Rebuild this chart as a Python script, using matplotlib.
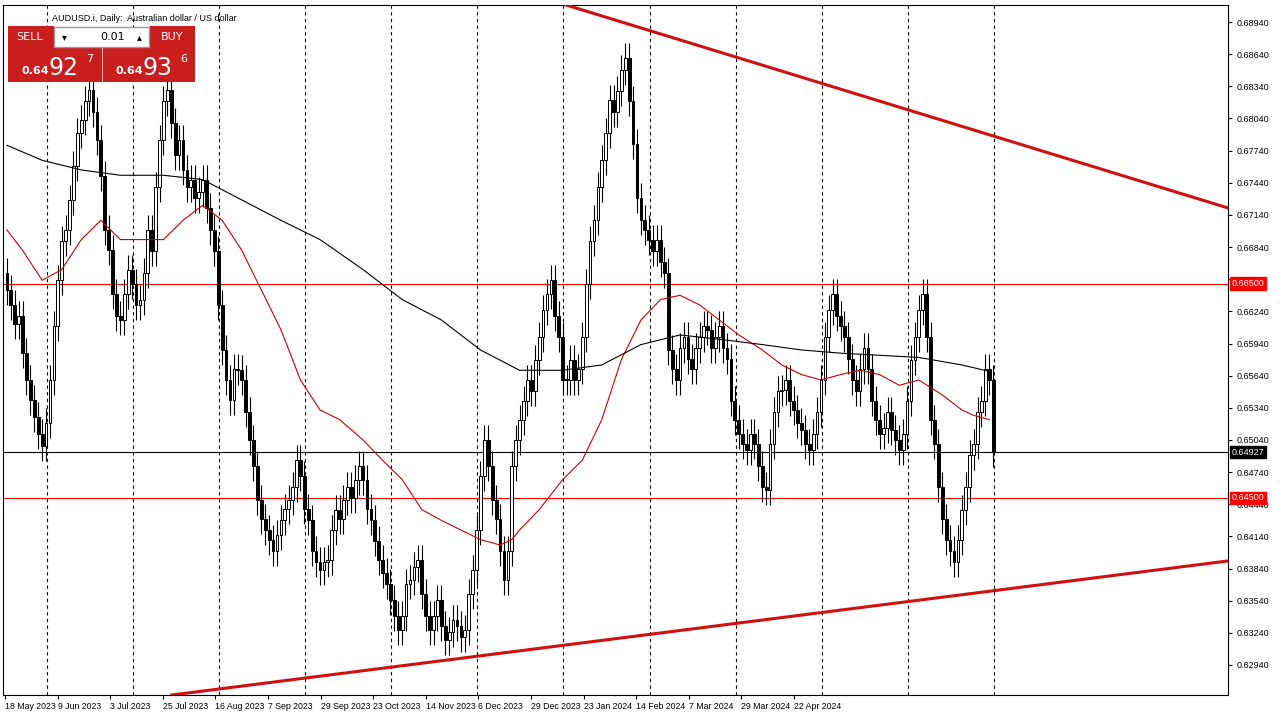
import numpy as np
import matplotlib
matplotlib.use("Agg")
from matplotlib import pyplot as plt
from matplotlib.patches import Rectangle

closes = [
    0.6644, 0.6630, 0.6612, 0.6620, 0.6585, 0.6560, 0.6541, 0.6525, 0.6510, 0.6498,
    0.6520, 0.6560, 0.6610, 0.6653, 0.6690, 0.6700, 0.6728, 0.6760, 0.6790, 0.6803,
    0.6820, 0.6831, 0.6810, 0.6784, 0.6750, 0.6700, 0.6681, 0.6640, 0.6620, 0.6616,
    0.6640, 0.6663, 0.6650, 0.6630, 0.6635, 0.6660, 0.6700, 0.6680, 0.6740, 0.6784,
    0.6820, 0.6831, 0.6800, 0.6770, 0.6784, 0.6756, 0.6740, 0.6747, 0.6730, 0.6735,
    0.6747, 0.6720, 0.6700, 0.6680, 0.6630, 0.6588, 0.6560, 0.6541, 0.6570, 0.6569,
    0.6560, 0.6530, 0.6504, 0.6480, 0.6448, 0.6430, 0.6420, 0.6411, 0.6400, 0.6415,
    0.6429, 0.6440, 0.6448, 0.6460, 0.6485, 0.6470, 0.6440, 0.6429, 0.6400, 0.6390,
    0.6383, 0.6390, 0.6392, 0.6420, 0.6439, 0.6430, 0.6448, 0.6460, 0.6450, 0.6467,
    0.6480, 0.6467, 0.6440, 0.6429, 0.6410, 0.6392, 0.6380, 0.6370, 0.6355, 0.6340,
    0.6327, 0.6340, 0.6370, 0.6373, 0.6385, 0.6392, 0.6360, 0.6340, 0.6327, 0.6340,
    0.6355, 0.6330, 0.6317, 0.6325, 0.6336, 0.6330, 0.6320, 0.6327, 0.6360, 0.6383,
    0.6420, 0.6470, 0.6504, 0.6480, 0.6448, 0.6430, 0.6400, 0.6373, 0.6400, 0.6480,
    0.6504, 0.6523, 0.6540, 0.6560, 0.6550, 0.6579, 0.6600, 0.6625, 0.6640, 0.6653,
    0.6620, 0.6600, 0.6560, 0.6560, 0.6579, 0.6560, 0.6570, 0.6600, 0.6650, 0.6690,
    0.6709, 0.6740, 0.6765, 0.6790, 0.6821, 0.6810, 0.6830, 0.6849, 0.6860, 0.6820,
    0.6780, 0.6730, 0.6709, 0.6700, 0.6691, 0.6680, 0.6691, 0.6670, 0.6660, 0.6588,
    0.6570, 0.6560, 0.6590, 0.6600, 0.6580, 0.6570, 0.6590, 0.6600, 0.6610, 0.6607,
    0.6590, 0.6600, 0.6610, 0.6590, 0.6580, 0.6540, 0.6523, 0.6510, 0.6500, 0.6495,
    0.6510, 0.6500, 0.6480, 0.6460, 0.6457, 0.6500, 0.6530, 0.6550, 0.6551, 0.6560,
    0.6540, 0.6532, 0.6520, 0.6513, 0.6500, 0.6495, 0.6510, 0.6530, 0.6560, 0.6600,
    0.6625, 0.6640, 0.6620, 0.6610, 0.6600, 0.6580, 0.6560, 0.6550, 0.6570, 0.6590,
    0.6570, 0.6540, 0.6523, 0.6510, 0.6515, 0.6530, 0.6513, 0.6504, 0.6495, 0.6510,
    0.6540, 0.6579, 0.6600, 0.6625, 0.6640, 0.6600, 0.6523, 0.6500, 0.6460, 0.6430,
    0.6411, 0.6400, 0.6390, 0.6411, 0.6439, 0.6460, 0.6490, 0.6500, 0.6530, 0.6540,
    0.6570, 0.6560, 0.6493,
]
first_open = 0.6660
wick = 0.0014

# moving averages (candle index, price)
ema_idx = [0, 4, 9, 14, 19, 24, 29, 34, 40, 45, 50, 55, 60, 65, 70, 75, 80, 85, 91, 96,
           101, 106, 111, 116, 121, 126, 129, 131, 136, 142, 147, 152, 157, 162, 167,
           172, 177, 182, 187, 193, 198, 203, 208, 213, 218, 223, 228, 233, 239, 244, 247, 251]
ema_val = [0.6700, 0.6681, 0.6653, 0.6663, 0.6691, 0.6709, 0.6691, 0.6691, 0.6691, 0.6709,
           0.6723, 0.6709, 0.6681, 0.6644, 0.6607, 0.6560, 0.6532, 0.6523, 0.6504, 0.6485,
           0.6467, 0.6439, 0.6429, 0.6420, 0.6411, 0.6406, 0.6411, 0.6420, 0.6439, 0.6467,
           0.6485, 0.6523, 0.6579, 0.6616, 0.6635, 0.6639, 0.6630, 0.6616, 0.6602, 0.6588,
           0.6574, 0.6565, 0.6560, 0.6565, 0.6569, 0.6565, 0.6555, 0.6560, 0.6546, 0.6532,
           0.6527, 0.6523]
sma_idx = [0, 9, 19, 29, 40, 50, 60, 70, 80, 91, 101, 111, 121, 131, 142, 152, 162, 172,
           182, 193, 203, 213, 223, 233, 244, 251]
sma_val = [0.6779, 0.6765, 0.6756, 0.6751, 0.6751, 0.6747, 0.6728, 0.6709, 0.6691, 0.6663,
           0.6635, 0.6616, 0.6588, 0.6569, 0.6569, 0.6574, 0.6593, 0.6602, 0.6598, 0.6593,
           0.6588, 0.6585, 0.6583, 0.6581, 0.6574, 0.6568]

upper_trend = [(142.9, 0.69099), (312.0, 0.67205)]
lower_trend = [(42.1, 0.62660), (312.0, 0.63911)]
red_levels = [0.6650, 0.6450]
current = 0.64927

date_labels = ["18 May 2023", "9 Jun 2023", "3 Jul 2023", "25 Jul 2023", "16 Aug 2023",
               "7 Sep 2023", "29 Sep 2023", "23 Oct 2023", "14 Nov 2023", "6 Dec 2023",
               "29 Dec 2023", "23 Jan 2024", "14 Feb 2024", "7 Mar 2024", "29 Mar 2024",
               "22 Apr 2024"]

opens = [first_open] + closes[:-1]
font = ["Liberation Sans", "DejaVu Sans"]

fig = plt.figure(figsize=(12.85, 7.19), dpi=100)
fig.patch.set_facecolor("white")
ax = fig.add_axes([3 / 1285, 24 / 719, 1225 / 1285, 690 / 719])
ax.set_xlim(-1.0, 312)
ax.set_ylim(0.62660, 0.69099)

for i, (o, c) in enumerate(zip(opens, closes)):
    hi, lo = max(o, c) + wick, min(o, c) - wick
    ax.vlines(i, lo, hi, color="black", lw=0.8, zorder=3)
    face = "white" if c >= o else "black"
    ax.add_patch(Rectangle((i - 0.35, min(o, c)), 0.7, max(abs(c - o), 0.00005),
                           facecolor=face, edgecolor="black", lw=0.7, zorder=4))

ax.plot(ema_idx, ema_val, color="#cc0000", lw=0.8, zorder=5)
ax.plot(sma_idx, sma_val, color="black", lw=0.8, zorder=5)
for line in (upper_trend, lower_trend):
    ax.plot([p[0] for p in line], [p[1] for p in line], color="#d01010", lw=2.2, zorder=6)
for lv in red_levels:
    ax.axhline(lv, color="red", lw=0.8, zorder=2)
ax.axhline(current, color="black", lw=0.8, zorder=2)

# terminal grid: dashed line every 22 bars, date label every ~13.4 bars
for p in np.arange(10.2, len(closes) + 1, 22.0):
    ax.axvline(p, color="black", lw=0.8, ls=(0, (3, 3)), zorder=1)
tick_pos = -0.5 + 13.44 * np.arange(len(date_labels))
ax.set_xticks(tick_pos)
ax.set_xticklabels(date_labels, fontsize=6.3, ha="left", family=font)
ax.tick_params(axis="x", length=3, pad=2)

yt = np.round(np.arange(0.6294, 0.6895, 0.0030), 5)
ax.yaxis.tick_right()
ax.set_yticks(yt)
ax.set_yticklabels([f"{v:.5f}" if abs(v - 0.6654) > 1e-6 else "" for v in yt],
                   fontsize=6.5, family=font)
ax.tick_params(axis="y", length=3, pad=3)

for lv, col in [(0.6650, "red"), (0.6450, "red"), (current, "black")]:
    ax.text(1.003, lv, f"{lv:.5f}", transform=ax.get_yaxis_transform(), fontsize=6.5,
            family=font, color="white", va="center", ha="left", zorder=10,
            bbox=dict(boxstyle="square,pad=0.2", fc=col, ec=col))

ax.text(0.04, 0.987, "AUDUSD.i, Daily:  Australian dollar / US dollar",
        transform=ax.transAxes, fontsize=6.5, family=font, va="top")

# trade panel
panel = fig.add_axes([8 / 1285, 637 / 719, 187 / 1285, 56 / 719])
panel.set_xlim(0, 187)
panel.set_ylim(0, 56)
panel.axis("off")
panel.add_patch(Rectangle((0, 0), 93, 34, fc="#c81e1e", ec="#c81e1e"))
panel.add_patch(Rectangle((95, 0), 92, 34, fc="#c81e1e", ec="#c81e1e"))
panel.add_patch(Rectangle((0, 34), 45, 22, fc="#c81e1e", ec="#c81e1e"))
panel.add_patch(Rectangle((142, 34), 45, 22, fc="#c81e1e", ec="#c81e1e"))
panel.add_patch(Rectangle((46, 35), 95, 20, fc="white", ec="#999999"))
panel.text(22, 45, "SELL", color="white", fontsize=8, ha="center", va="center")
panel.text(164, 45, "BUY", color="white", fontsize=8, ha="center", va="center")
panel.text(56, 45, "▾", fontsize=7, ha="center", va="center")
panel.text(131, 45, "▴", fontsize=7, ha="center", va="center")
panel.text(105, 45, "0.01", fontsize=8, ha="center", va="center")
panel.text(13, 11, "0.64", color="white", fontsize=8, fontweight="bold", va="center")
panel.text(40, 14, "92", color="white", fontsize=17, va="center")
panel.text(78, 23, "7", color="white", fontsize=8, va="center")
panel.text(107, 11, "0.64", color="white", fontsize=8, fontweight="bold", va="center")
panel.text(134, 14, "93", color="white", fontsize=17, va="center")
panel.text(172, 23, "6", color="white", fontsize=8, va="center")

fig.savefig("out.png", dpi=100)
